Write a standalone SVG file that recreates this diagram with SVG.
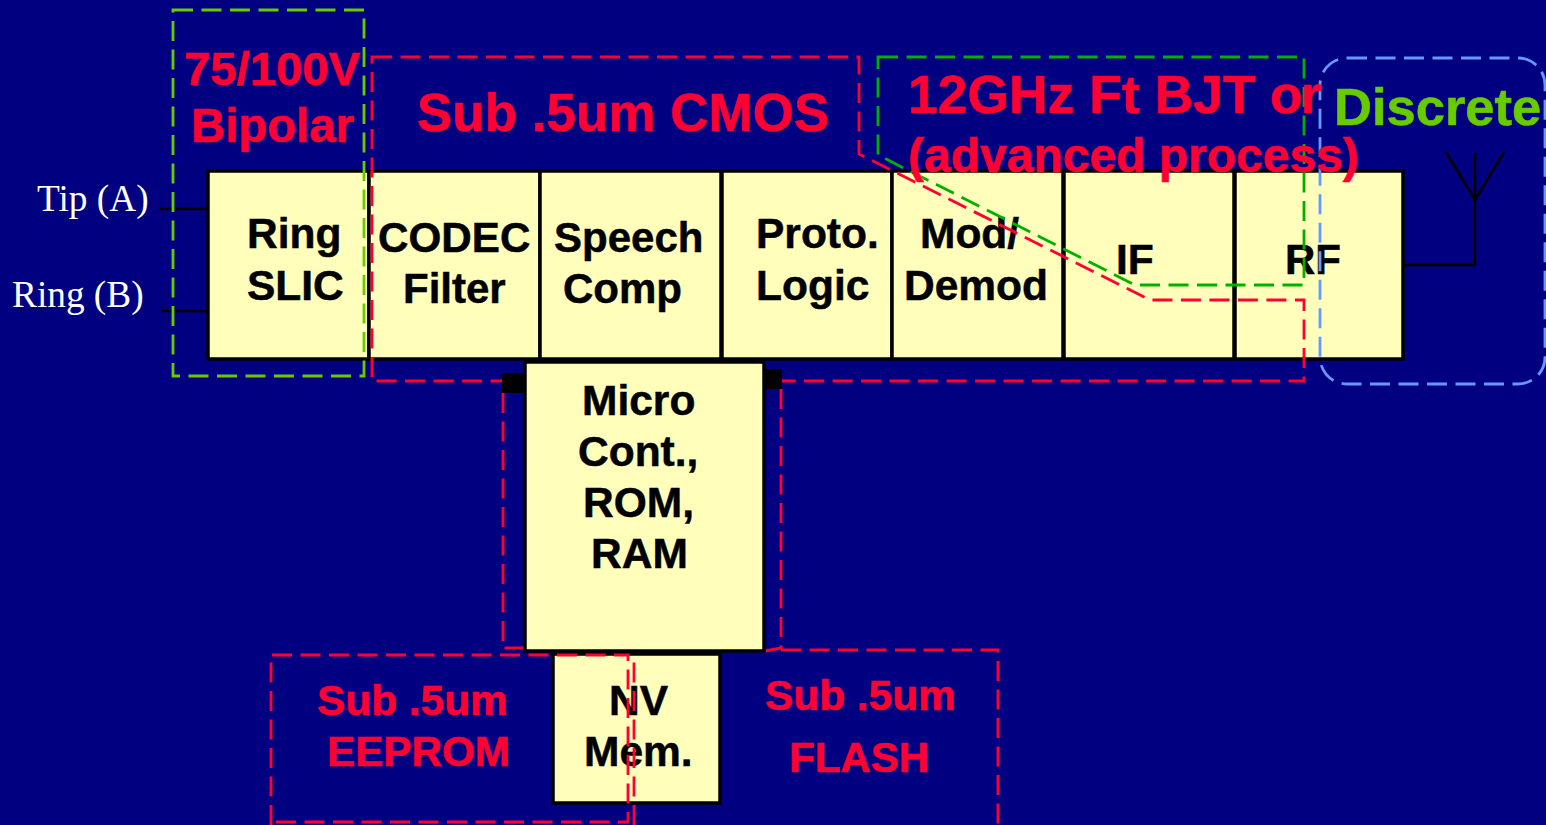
<svg xmlns="http://www.w3.org/2000/svg" width="1546" height="825" viewBox="0 0 1546 825">
<style>
.b{fill:#FFFFBB;stroke:#000;stroke-width:3.5}
.t{font:bold 42.5px "Liberation Sans",Arial,sans-serif;fill:#000;stroke:#000;stroke-width:.5}
.r{font:bold 47px "Liberation Sans",Arial,sans-serif;fill:#FF0033;stroke:#FF0033;stroke-width:.6}
.w{font:37.3px "Liberation Serif","Times New Roman",serif;fill:#fff}
.d{fill:none;stroke-width:2.8;stroke-dasharray:20 8.5}
.dr{stroke:#FF0033}.dg{stroke:#66CC00}.dh{stroke:#00B000}.db{stroke:#6699FF}
.w1{fill:none;stroke:#000;stroke-width:2.5}
</style>
<rect width="1546" height="825" fill="#000080"/>
<g id="connectors">
<path class="w1" d="M160 209H208M162 311H208M1403 265H1475V153M1446 152L1475 200L1504 152"/>
</g>
<g id="ring-slic"><rect class="b" x="208" y="171" width="161" height="188"/><text class="t" x="247" y="248">Ring</text><text class="t" x="247" y="300">SLIC</text></g>
<g id="codec"><rect class="b" x="369" y="171" width="171" height="188"/><text class="t" x="378" y="252" style="font-size:42.2px">CODEC</text><text class="t" x="403" y="303" style="font-size:42px">Filter</text></g>
<g id="speech"><rect class="b" x="540" y="171" width="181" height="188"/><text class="t" x="554" y="252" style="font-size:42px">Speech</text><text class="t" x="563" y="303" style="font-size:42px">Comp</text></g>
<g id="proto"><rect class="b" x="722" y="171" width="170" height="188"/><text class="t" x="756" y="248">Proto.</text><text class="t" x="756" y="300">Logic</text></g>
<g id="mod"><rect class="b" x="892" y="171" width="171" height="188"/><text class="t" x="920" y="248">Mod/</text><text class="t" x="904" y="300">Demod</text></g>
<g id="if"><rect class="b" x="1064" y="171" width="170" height="188"/><text class="t" x="1116" y="274">IF</text></g>
<g id="rf"><rect class="b" x="1235" y="171" width="168" height="188"/><text class="t" x="1285" y="274" style="font-size:42px">RF</text></g>
<g id="regions-upper">
<path class="d dg" d="M173 10H364V376H173Z"/>
<path class="d dr" d="M372 57H859V154L1150 300H1304V381H372Z"/>
<path class="d dh" d="M878 57H1304V285H1135L878 155Z"/>
<rect class="d db" x="1320" y="58" width="225" height="326" rx="27"/>
</g>
<g id="pads">
<rect x="502" y="373" width="23" height="20" fill="#000"/>
<rect x="764" y="369" width="18" height="20" fill="#000"/>
</g>
<g id="regions-micro">
<path class="d dr" d="M503 393V648H525M781 389V648L765 651"/>
</g>
<g id="micro"><rect class="b" x="525" y="362" width="239" height="289"/><text class="t" x="582" y="415">Micro</text><text class="t" x="578" y="466">Cont.,</text><text class="t" x="583" y="517">ROM,</text><text class="t" x="591" y="568">RAM</text></g>
<g id="nv"><rect class="b" x="553" y="654" width="167" height="149"/><text class="t" x="609" y="715">NV</text><text class="t" x="584" y="766">Mem.</text></g>
<g id="regions-lower">
<path class="d dr" d="M271 825V655H628V822H271"/>
<path class="d dr" d="M634 825V655M781 650H998V825"/>
</g>
<g id="labels">
<text class="w" x="37" y="211">Tip (A)</text>
<text class="w" x="12" y="307">Ring (B)</text>
<text class="r" x="184" y="85" textLength="176" lengthAdjust="spacingAndGlyphs">75/100V</text>
<text class="r" x="191" y="142" style="font-size:47.3px">Bipolar</text>
<text class="r" x="417" y="131" style="font-size:53px">Sub .5um CMOS</text>
<text class="r" x="908" y="113" style="font-size:53.5px">12GHz Ft BJT <tspan x="1270" letter-spacing="-2">or</tspan></text>
<text class="r" x="908" y="172" style="font-size:48px">(advanced process)</text>
<text class="r" x="1334" y="125" style="font-size:52.5px;fill:#66CC00;stroke:#66CC00">Discrete</text>
<text class="r" x="317" y="715" style="font-size:42.4px">Sub .5um</text>
<text class="r" x="327" y="766" style="font-size:42.2px">EEPROM</text>
<text class="r" x="765" y="710" style="font-size:42.4px">Sub .5um</text>
<text class="r" x="789" y="772" style="font-size:42px">FLASH</text>
</g>
</svg>
